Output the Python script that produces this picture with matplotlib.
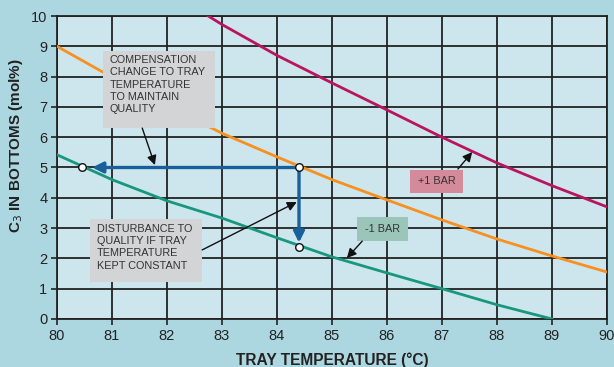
import matplotlib
matplotlib.use("Agg")
import matplotlib.pyplot as plt
from matplotlib.patches import Rectangle

# ---- data ----
temps_base = [80, 81, 82, 83, 84, 85, 86, 87, 88, 89, 90]
c3_base = [9.0, 7.98, 7.05, 6.13, 5.35, 4.6, 3.93, 3.27, 2.64, 2.08, 1.55]

temps_plus = [82.75, 83, 84, 85, 86, 87, 88, 89, 90]
c3_plus = [10.0, 9.72, 8.7, 7.79, 6.9, 6.0, 5.15, 4.4, 3.7]

temps_minus = [80, 81, 82, 83, 84, 85, 86, 87, 88, 89]
c3_minus = [5.42, 4.6, 3.9, 3.33, 2.68, 2.05, 1.52, 1.0, 0.47, 0.0]

op_temp = 84.4      # operating tray temperature
op_c3 = 5.0         # operating C3 in bottoms
comp_temp = 80.45   # compensated tray temperature
dist_c3 = 2.38      # C3 after disturbance at constant temp

x_ticks = list(range(80, 91))
y_ticks = list(range(0, 11))

plt.rcParams['font.family'] = ['Liberation Sans', 'DejaVu Sans']

fig = plt.figure(figsize=(6.14, 3.67), dpi=100)
fig.patch.set_facecolor('#add7e0')
ax = fig.add_axes([0.0928, 0.1308, 0.8958, 0.8256])
ax.set_facecolor('#cde6ee')

ax.set_xlim(80, 90)
ax.set_ylim(0, 10)
ax.set_xticks(x_ticks)
ax.set_yticks(y_ticks)
ax.grid(True, color='#222222', linewidth=1.3)
ax.set_axisbelow(True)
for s in ax.spines.values():
    s.set_color('#222222')
    s.set_linewidth(1.3)
ax.tick_params(axis='both', labelsize=10.5, colors='#222222', length=4, width=1.2, pad=3)

ax.plot(temps_plus, c3_plus, color='#b8145f', lw=2.0, zorder=3)
ax.plot(temps_base, c3_base, color='#f7901e', lw=2.0, zorder=3)
ax.plot(temps_minus, c3_minus, color='#18977f', lw=2.0, zorder=3)

blue = '#17609c'
ax.annotate('', xy=(80.64, op_c3), xytext=(op_temp, op_c3),
            arrowprops=dict(arrowstyle='-|>', color=blue, lw=2.4,
                            mutation_scale=16, shrinkA=0, shrinkB=0), zorder=4)
ax.annotate('', xy=(op_temp, 2.52), xytext=(op_temp, op_c3),
            arrowprops=dict(arrowstyle='-|>', color=blue, lw=2.4,
                            mutation_scale=16, shrinkA=0, shrinkB=0), zorder=4)

ax.scatter([comp_temp, op_temp, op_temp], [op_c3, op_c3, dist_c3], s=30,
           facecolor='white', edgecolor='#111111', linewidth=1.0, zorder=6)

# annotation boxes
ax.add_patch(Rectangle((80.84, 6.30), 2.03, 2.54, facecolor='#d3d4d6',
                       edgecolor='none', zorder=5))
ax.text(80.96, 8.72, 'COMPENSATION\nCHANGE TO TRAY\nTEMPERATURE\nTO MAINTAIN\nQUALITY',
        fontsize=7.8, color='#333333', va='top', ha='left', linespacing=1.3, zorder=6)

ax.add_patch(Rectangle((80.60, 1.22), 2.04, 2.08, facecolor='#d3d4d6',
                       edgecolor='none', zorder=5))
ax.text(80.73, 3.15, 'DISTURBANCE TO\nQUALITY IF TRAY\nTEMPERATURE\nKEPT CONSTANT',
        fontsize=7.8, color='#333333', va='top', ha='left', linespacing=1.3, zorder=6)

ax.add_patch(Rectangle((86.42, 4.16), 0.96, 0.76, facecolor='#d48a9b',
                       edgecolor='none', zorder=5))
ax.text(86.90, 4.54, '+1 BAR', fontsize=7.8, color='#333333', va='center',
        ha='center', zorder=6)

ax.add_patch(Rectangle((85.45, 2.57), 0.93, 0.80, facecolor='#9bc5b9',
                       edgecolor='none', zorder=5))
ax.text(85.915, 2.97, '-1 BAR', fontsize=7.8, color='#333333', va='center',
        ha='center', zorder=6)

arrow_kw = dict(arrowstyle='-|>', color='#111111', lw=1.0, mutation_scale=14,
                shrinkA=0, shrinkB=0)
ax.annotate('', xy=(81.78, 5.08), xytext=(81.55, 6.30), arrowprops=arrow_kw, zorder=6)
ax.annotate('', xy=(84.36, 3.86), xytext=(82.64, 2.28), arrowprops=arrow_kw, zorder=6)
ax.annotate('', xy=(87.55, 5.51), xytext=(87.29, 4.95), arrowprops=arrow_kw, zorder=6)
ax.annotate('', xy=(85.27, 2.01), xytext=(85.55, 2.57), arrowprops=arrow_kw, zorder=6)

ax.set_xlabel('TRAY TEMPERATURE (°C)', fontsize=11.2, fontweight='bold',
              color='#222222', labelpad=7)
ax.set_ylabel('C$_3$ IN BOTTOMS (mol%)', fontsize=11, fontweight='bold',
              color='#222222', labelpad=4)
ax.yaxis.label.set_y(0.573)

fig.savefig('out.png', dpi=100, facecolor=fig.get_facecolor())
